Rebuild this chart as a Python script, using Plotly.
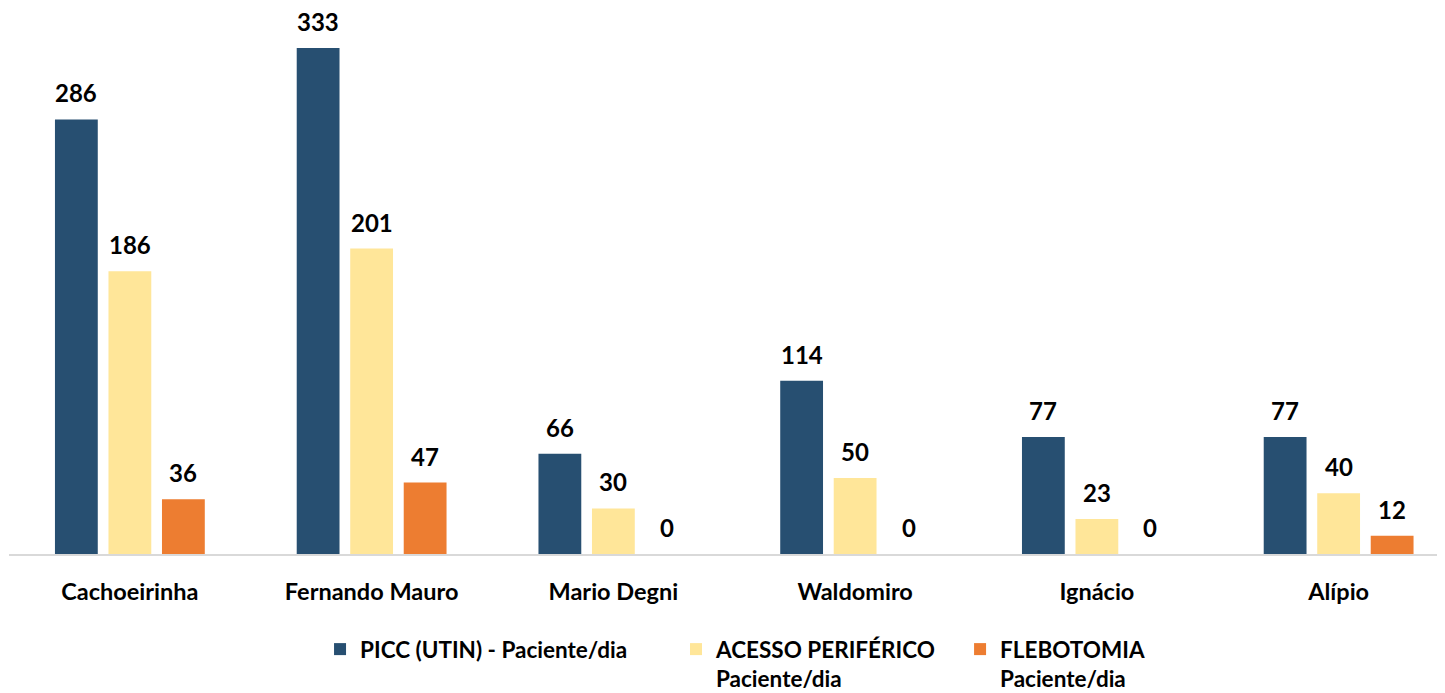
import plotly.graph_objects as go

# chart data
units = ["Cachoeirinha", "Fernando Mauro", "Mario Degni", "Waldomiro", "Ignácio", "Alípio"]
picc = [286, 333, 66, 114, 77, 77]
acesso = [186, 201, 30, 50, 23, 40]
flebotomia = [36, 47, 0, 0, 0, 12]
series_names = [
    "<b>PICC (UTIN) - Paciente/dia</b>",
    "<b>ACESSO PERIFÉRICO<br>Paciente/dia</b>",
    "<b>FLEBOTOMIA<br>Paciente/dia</b>",
]

colors = ["#274F71", "#FFE699", "#ED7D31"]
FONT = "Lato"
legend_ids = ["legend", "legend2", "legend3"]
legend_x = [0.2166, 0.4645, 0.6623]

fig = go.Figure()
all_series = [picc, acesso, flebotomia]
for name, vals, col, lg in zip(series_names, all_series, colors, legend_ids):
    fig.add_trace(go.Bar(
        x=units, y=vals, name=name, legend=lg,
        marker=dict(color=col, line=dict(width=0)),
    ))

# value labels above each bar
shifts = [-53.5, 0, 53.5]
for vals, dx in zip(all_series, shifts):
    for u, v in zip(units, vals):
        fig.add_annotation(
            x=u, y=v, text=f"<b>{v}</b>", showarrow=False,
            xshift=dx, yshift=10, yanchor="bottom",
            font=dict(family=FONT, size=24, color="black"),
        )

leg_style = dict(
    orientation="h", xanchor="left", y=-0.1355, yanchor="top",
    valign="top", font=dict(family=FONT, size=22.5, color="black"),
    bgcolor="rgba(0,0,0,0)",
)
legends = {lg: dict(leg_style, x=lx) for lg, lx in zip(legend_ids, legend_x)}

fig.update_layout(
    width=1445, height=693,
    margin=dict(l=1, r=8, t=0, b=147),
    paper_bgcolor="white", plot_bgcolor="white",
    barmode="group", bargap=0.336, bargroupgap=0.2,
    font=dict(family=FONT, size=22, color="black"),
    showlegend=True,
    **legends,
    xaxis=dict(
        range=[-0.5, 5.44], showgrid=False, showline=True,
        linecolor="#D9D9D9", linewidth=2,
        ticks="outside", ticklen=16, tickcolor="rgba(0,0,0,0)",
        tickfont=dict(family=FONT, size=23.5, color="black"),
        tickprefix="<b>", ticksuffix="</b>",
    ),
    yaxis=dict(range=[0, 359.3], visible=False, showgrid=False),
)

fig.write_html("out.html")
